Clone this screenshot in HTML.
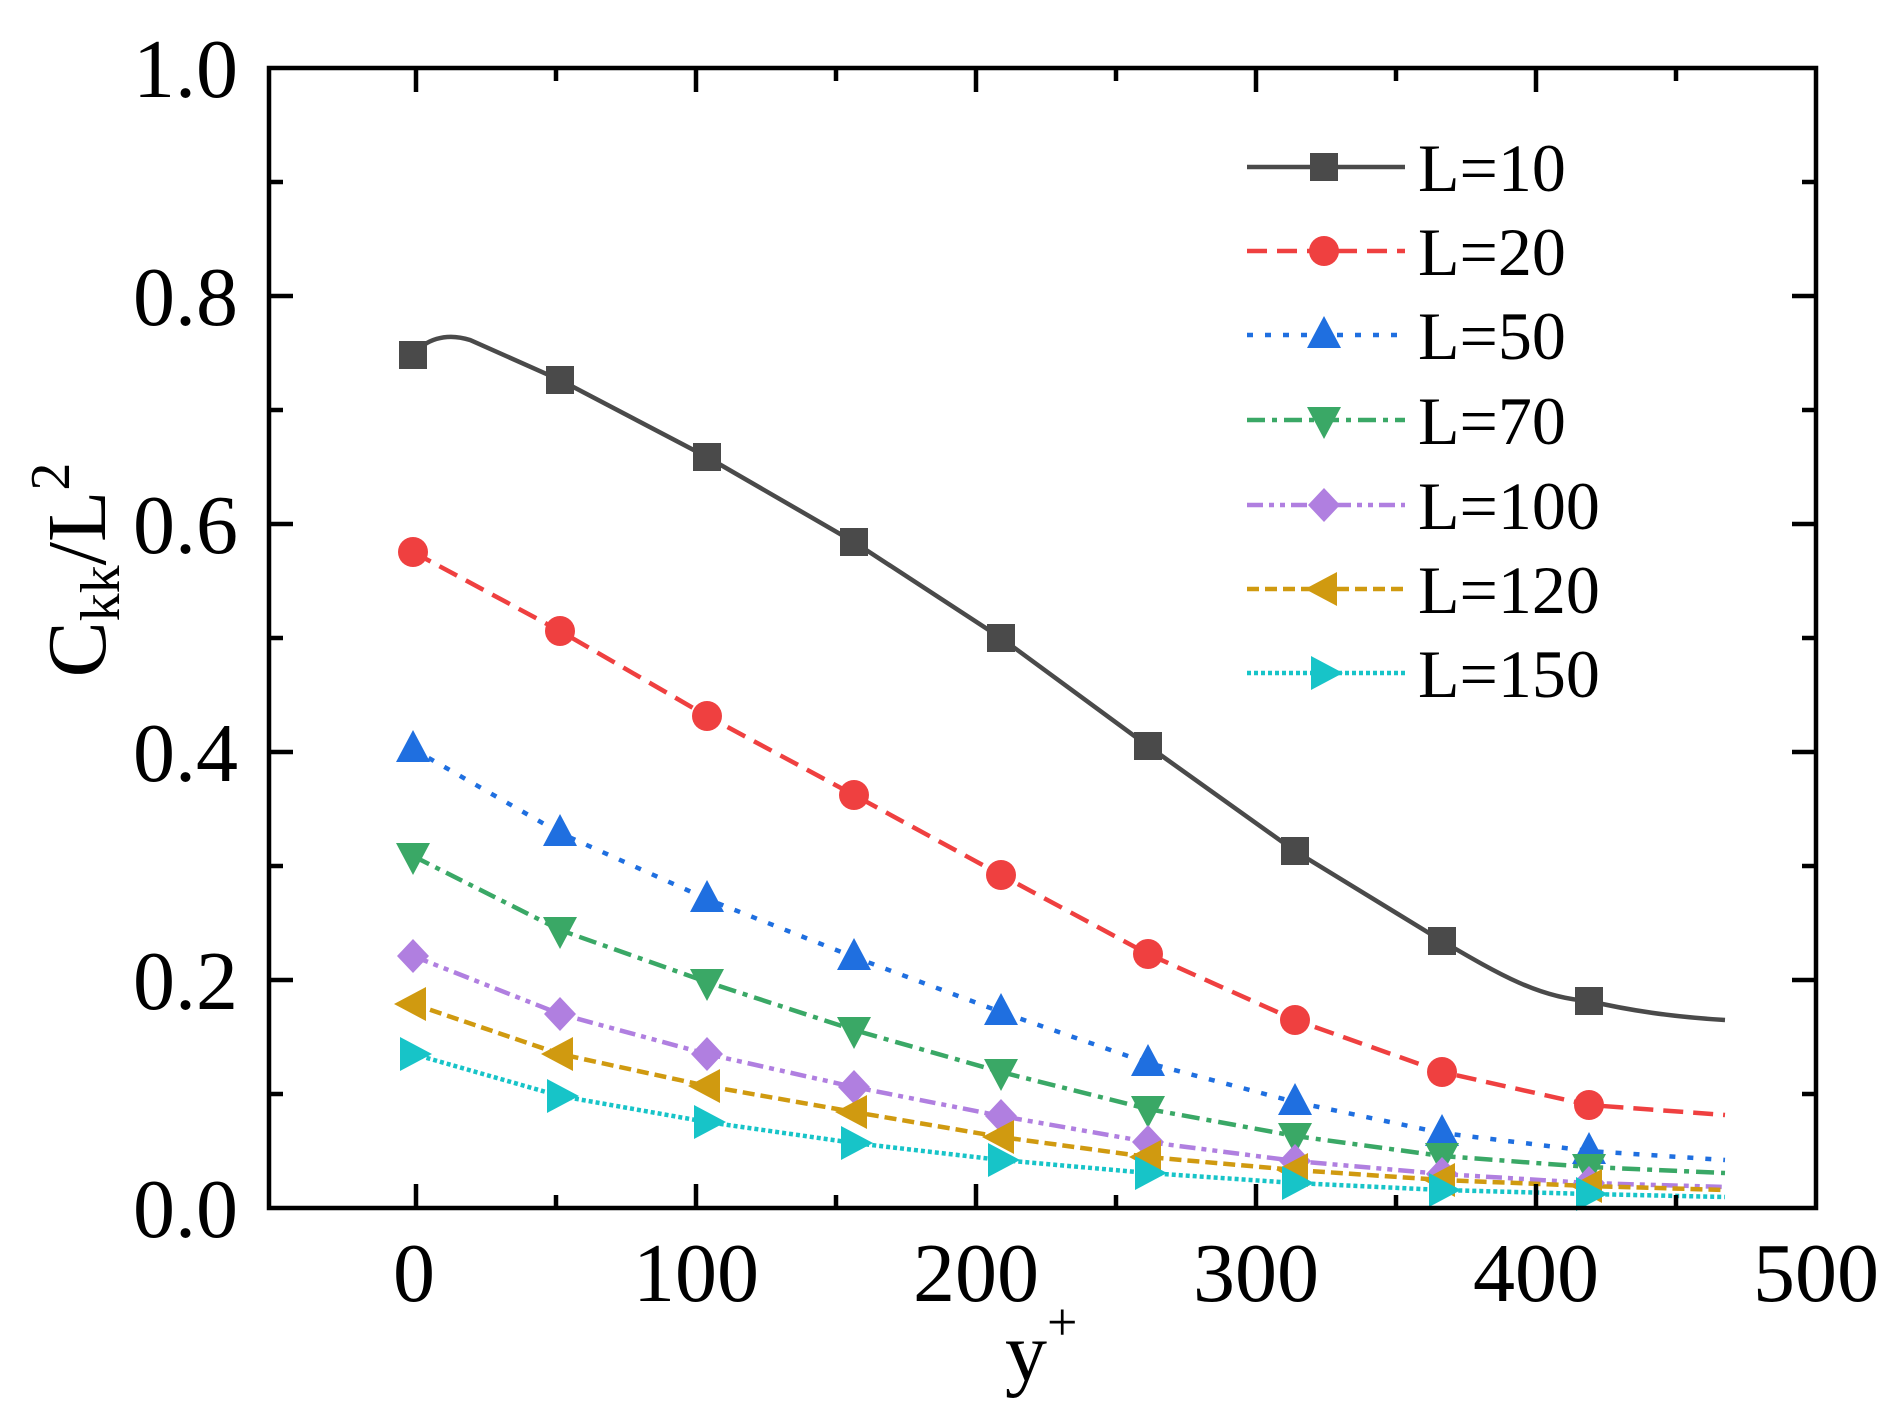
<!DOCTYPE html>
<html><head><meta charset="utf-8"><style>
html,body{margin:0;padding:0;background:#fff;}
svg{display:block;}
text{font-family:"Liberation Serif",serif;fill:#000;}
</style></head><body>
<svg width="1899" height="1411" viewBox="0 0 1899 1411" xmlns="http://www.w3.org/2000/svg">
<defs>
<rect id="sq" x="-14" y="-14" width="28" height="28" fill="#4a4a4a"/>
<circle id="ci" r="15" fill="#ef4040"/>
<polygon id="tu" points="0,-19 17,13 -17,13" fill="#1f6fe0"/>
<polygon id="td" points="0,19 17,-13 -17,-13" fill="#3aa866"/>
<polygon id="di" points="0,-17 16,0 0,17 -16,0" fill="#b07fe0"/>
<polygon id="tl" points="-19,0 13,-17 13,17" fill="#d09a10"/>
<polygon id="tr" points="19,0 -13,-17 -13,17" fill="#17c4c8"/>
</defs>
<g fill="none" stroke-width="4.5">
<path stroke="#4a4a4a" d="M413,355 C425,340 445,332 470,340 L560,380 L707,457 L854,542 L1001,638 L1148,746 L1295,851 L1442,941 C1500,975 1540,998 1589,1001 C1640,1013 1690,1018 1725,1020"/>
<polyline stroke="#ef4040" stroke-dasharray="20,10" points="413,552 560,631 707,716 854,795 1001,875 1148,954 1295,1020 1442,1072 1589,1105 1725,1115"/>
<polyline stroke="#1f6fe0" stroke-dasharray="6,12" points="413,749 560,833 707,899 854,957 1001,1012 1148,1063 1295,1102 1442,1133 1589,1151 1725,1160"/>
<polyline stroke="#3aa866" stroke-dasharray="18,7,5,7" points="413,856 560,930 707,982 854,1030 1001,1072 1148,1109 1295,1136 1442,1156 1589,1167 1725,1173"/>
<polyline stroke="#b07fe0" stroke-dasharray="16,6,5,6,5,6" points="413,956 560,1014 707,1054 854,1087 1001,1116 1148,1142 1295,1161 1442,1174 1589,1183 1725,1187"/>
<polyline stroke="#d09a10" stroke-dasharray="12,6" points="413,1004 560,1054 707,1086 854,1112 1001,1137 1148,1157 1295,1170 1442,1180 1589,1186 1725,1190"/>
<polyline stroke="#17c4c8" stroke-dasharray="4,3" points="413,1054 560,1096 707,1122 854,1143 1001,1160 1148,1173 1295,1183 1442,1190 1589,1194 1725,1197"/>
</g>
<g>
<use href="#sq" x="413" y="355"/><use href="#sq" x="560" y="380"/><use href="#sq" x="707" y="457"/><use href="#sq" x="854" y="542"/><use href="#sq" x="1001" y="638"/><use href="#sq" x="1148" y="746"/><use href="#sq" x="1295" y="851"/><use href="#sq" x="1442" y="941"/><use href="#sq" x="1589" y="1001"/>
<use href="#ci" x="413" y="552"/><use href="#ci" x="560" y="631"/><use href="#ci" x="707" y="716"/><use href="#ci" x="854" y="795"/><use href="#ci" x="1001" y="875"/><use href="#ci" x="1148" y="954"/><use href="#ci" x="1295" y="1020"/><use href="#ci" x="1442" y="1072"/><use href="#ci" x="1589" y="1105"/>
<use href="#tu" x="413" y="749"/><use href="#tu" x="560" y="833"/><use href="#tu" x="707" y="899"/><use href="#tu" x="854" y="957"/><use href="#tu" x="1001" y="1012"/><use href="#tu" x="1148" y="1063"/><use href="#tu" x="1295" y="1102"/><use href="#tu" x="1442" y="1133"/><use href="#tu" x="1589" y="1151"/>
<use href="#td" x="413" y="856"/><use href="#td" x="560" y="930"/><use href="#td" x="707" y="982"/><use href="#td" x="854" y="1030"/><use href="#td" x="1001" y="1072"/><use href="#td" x="1148" y="1109"/><use href="#td" x="1295" y="1136"/><use href="#td" x="1442" y="1156"/><use href="#td" x="1589" y="1167"/>
<use href="#di" x="413" y="956"/><use href="#di" x="560" y="1014"/><use href="#di" x="707" y="1054"/><use href="#di" x="854" y="1087"/><use href="#di" x="1001" y="1116"/><use href="#di" x="1148" y="1142"/><use href="#di" x="1295" y="1161"/><use href="#di" x="1442" y="1174"/><use href="#di" x="1589" y="1183"/>
<use href="#tl" x="413" y="1004"/><use href="#tl" x="560" y="1054"/><use href="#tl" x="707" y="1086"/><use href="#tl" x="854" y="1112"/><use href="#tl" x="1001" y="1137"/><use href="#tl" x="1148" y="1157"/><use href="#tl" x="1295" y="1170"/><use href="#tl" x="1442" y="1180"/><use href="#tl" x="1589" y="1186"/>
<use href="#tr" x="413" y="1054"/><use href="#tr" x="560" y="1096"/><use href="#tr" x="707" y="1122"/><use href="#tr" x="854" y="1143"/><use href="#tr" x="1001" y="1160"/><use href="#tr" x="1148" y="1173"/><use href="#tr" x="1295" y="1183"/><use href="#tr" x="1442" y="1190"/><use href="#tr" x="1589" y="1194"/>
</g>
<rect x="269" y="68" width="1547" height="1140" fill="none" stroke="#000" stroke-width="4.5"/>
<g stroke="#000" stroke-width="4.5">
<path d="M416,1208v-24M696,1208v-24M976,1208v-24M1256,1208v-24M1536,1208v-24M556,1208v-13M836,1208v-13M1116,1208v-13M1396,1208v-13M1676,1208v-13"/>
<path d="M416,68v24M696,68v24M976,68v24M1256,68v24M1536,68v24M556,68v13M836,68v13M1116,68v13M1396,68v13M1676,68v13"/>
<path d="M269,980h24M269,752h24M269,524h24M269,296h24M269,1094h14M269,866h14M269,638h14M269,410h14M269,182h14"/>
<path d="M1816,980h-24M1816,752h-24M1816,524h-24M1816,296h-24M1816,1094h-14M1816,866h-14M1816,638h-14M1816,410h-14M1816,182h-14"/>
</g>
<g font-size="84" text-anchor="end">
<text x="238" y="1237">0.0</text><text x="238" y="1009">0.2</text><text x="238" y="781">0.4</text><text x="238" y="553">0.6</text><text x="238" y="325">0.8</text><text x="238" y="97">1.0</text>
</g>
<g font-size="84" text-anchor="middle">
<text x="414" y="1301">0</text><text x="696" y="1301">100</text><text x="976" y="1301">200</text><text x="1256" y="1301">300</text><text x="1536" y="1301">400</text><text x="1816" y="1301">500</text>
</g>
<text x="1005" y="1380" font-size="84">y<tspan font-size="54" dy="-40">+</tspan></text>
<text transform="translate(105,570) rotate(-90)" text-anchor="middle" font-size="84">C<tspan font-size="56" dy="14">kk</tspan><tspan dy="-14">/L</tspan><tspan font-size="56" dy="-36">2</tspan></text>
<g stroke-width="4.5" fill="none">
<line x1="1247" y1="167" x2="1405" y2="167" stroke="#4a4a4a"/>
<line x1="1247" y1="251" x2="1405" y2="251" stroke="#ef4040" stroke-dasharray="20,10"/>
<line x1="1247" y1="335" x2="1405" y2="335" stroke="#1f6fe0" stroke-dasharray="6,12"/>
<line x1="1247" y1="420" x2="1405" y2="420" stroke="#3aa866" stroke-dasharray="18,7,5,7"/>
<line x1="1247" y1="505" x2="1405" y2="505" stroke="#b07fe0" stroke-dasharray="16,6,5,6,5,6"/>
<line x1="1247" y1="589" x2="1405" y2="589" stroke="#d09a10" stroke-dasharray="12,6"/>
<line x1="1247" y1="673" x2="1405" y2="673" stroke="#17c4c8" stroke-dasharray="4,3"/>
</g>
<use href="#sq" x="1324" y="167"/><use href="#ci" x="1324" y="251"/><use href="#tu" x="1324" y="335"/><use href="#td" x="1324" y="420"/><use href="#di" x="1324" y="505"/><use href="#tl" x="1324" y="589"/><use href="#tr" x="1324" y="673"/>
<g font-size="68">
<text x="1418" y="191">L=10</text><text x="1418" y="275">L=20</text><text x="1418" y="359">L=50</text><text x="1418" y="444">L=70</text><text x="1418" y="529">L=100</text><text x="1418" y="613">L=120</text><text x="1418" y="697">L=150</text>
</g>
</svg>
</body></html>
